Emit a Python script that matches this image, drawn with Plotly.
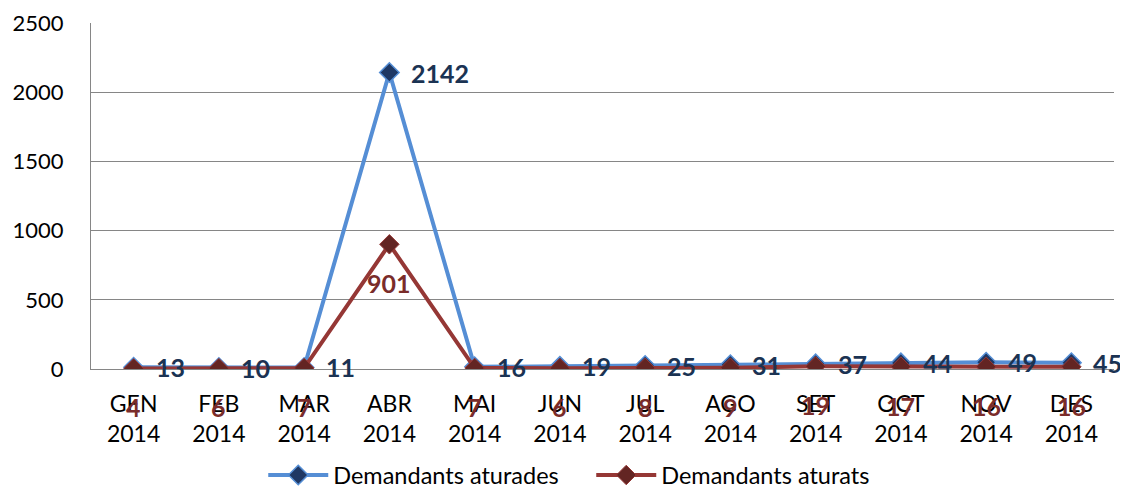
import plotly.graph_objects as go

months = ["GEN", "FEB", "MAR", "ABR", "MAI", "JUN", "JUL", "AGO", "SET", "OCT", "NOV", "DES"]
year = "2014"
categories = [f"{m}<br>{year}" for m in months]
aturades = [13, 10, 11, 2142, 16, 19, 25, 31, 37, 44, 49, 45]
aturats = [4, 6, 7, 901, 7, 6, 8, 9, 19, 17, 16, 16]
y_ticks = [0, 500, 1000, 1500, 2000, 2500]

FONT = "Lato"
BLUE_LINE = "#558ED5"
BLUE_MARK = "#1F3864"
BLUE_TEXT = "#1B3353"
RED_LINE = "#953735"
RED_MARK = "#632523"
RED_TEXT = "#7A2C2A"

fig = go.Figure()
fig.add_trace(go.Scatter(
    x=categories, y=aturades, name="Demandants aturades", mode="lines+markers",
    line=dict(color=BLUE_LINE, width=4),
    marker=dict(symbol="diamond", size=15, color=BLUE_MARK, line=dict(color=BLUE_LINE, width=1.5)),
))
fig.add_trace(go.Scatter(
    x=categories, y=aturats, name="Demandants aturats", mode="lines+markers",
    line=dict(color=RED_LINE, width=4),
    marker=dict(symbol="diamond", size=15, color=RED_MARK, line=dict(color=RED_LINE, width=1)),
))

annotations = []
for c, v in zip(categories, aturades):
    annotations.append(dict(x=c, y=v, text=str(v), showarrow=False, xanchor="left", yanchor="middle",
                            xshift=20, font=dict(family=FONT, size=25, color=BLUE_TEXT, weight="bold")))
for c, v in zip(categories, aturats):
    annotations.append(dict(x=c, y=v, text=str(v), showarrow=False, xanchor="center", yanchor="middle",
                            yshift=-39, font=dict(family=FONT, size=25, color=RED_TEXT, weight="bold")))

fig.update_layout(
    width=1120, height=480,
    margin=dict(l=83, r=14, t=15, b=119, autoexpand=False),
    plot_bgcolor="white", paper_bgcolor="white",
    font=dict(family=FONT, size=22, color="black"),
    annotations=annotations,
    showlegend=True,
    legend=dict(orientation="h", x=0.489, xanchor="center", y=-0.307, yanchor="middle",
                font=dict(family=FONT, size=23.5, color="black"), itemwidth=60,
                entrywidth=253, traceorder="normal"),
    xaxis=dict(type="category", range=[-0.5, 11.5], showgrid=False, showline=True,
               linecolor="#868686", linewidth=1, ticks="", tickfont=dict(family=FONT, size=23),
               ticklabelstandoff=14, zeroline=False),
    yaxis=dict(range=[0, 2500], tickvals=y_ticks, showgrid=True, gridcolor="#868686", gridwidth=1,
               showline=True, linecolor="#868686", linewidth=1, ticks="", zeroline=False,
               tickfont=dict(family=FONT, size=22), ticklabelstandoff=22),
)

fig.write_html("out.html")
